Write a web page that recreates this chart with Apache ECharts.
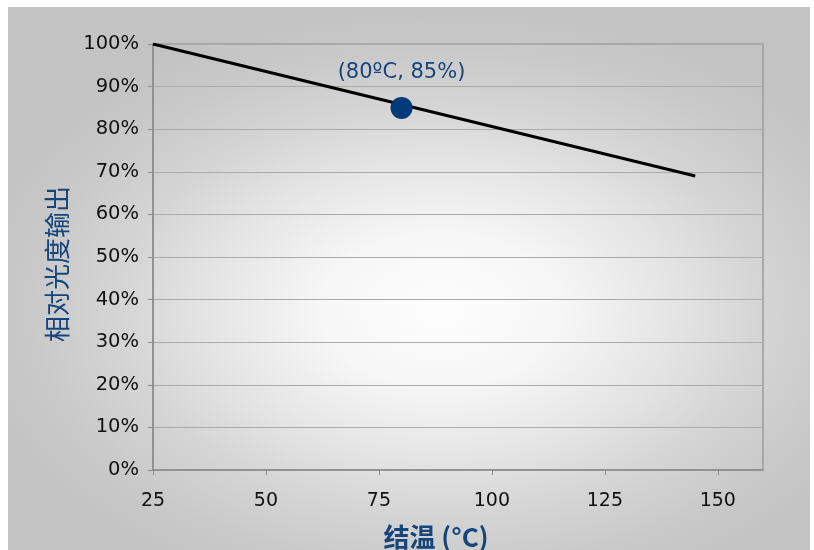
<!DOCTYPE html>
<html>
<head>
<meta charset="utf-8">
<script src="https://cdn.jsdelivr.net/npm/echarts@6/dist/echarts.min.js"></script>
<style>
  html, body { margin: 0; padding: 0; background: #ffffff; }
  #chart { width: 814px; height: 550px; }
</style>
</head>
<body>
<div id="chart"></div>
<script>
// Junction temperature (°C) vs. relative light output (%)
const junctionTemp = [25, 145];
const relativeOutput = [100, 69];

// Highlighted operating point
const pointTemp = [80];
const pointOutput = [85];

// Axis ticks
const xTickValues = [25, 50, 75, 100, 125, 150];
const xMin = 25, xMax = 160, xStep = 25;
const yMin = 0, yMax = 100, yStep = 10;

const yTitle = '相对光度输出';
const xTitle = '结温 (°C)';

const titleBlue = '#16457c';
const labelFont = 'DejaVu Sans, Verdana, sans-serif';
const cjkFont = '"Noto Sans CJK SC", "DejaVu Sans", sans-serif';

const lineData = junctionTemp.map((t, i) => [t, relativeOutput[i]]);
const pointData = pointTemp.map((t, i) => [t, pointOutput[i]]);

const chart = echarts.init(document.getElementById('chart'), null, { renderer: 'canvas' });

chart.setOption({
  animation: false,
  backgroundColor: '#ffffff',
  graphic: [
    {
      // grey panel with a soft elliptical highlight in the middle
      type: 'rect',
      z: -10,
      silent: true,
      x: 440,
      y: 310,
      scaleY: 0.64,
      shape: { x: -432, y: (7 - 310) / 0.64, width: 802, height: (550 - 7) / 0.64 },
      style: {
        fill: new echarts.graphic.RadialGradient(0, 0, 480, [
          { offset: 0, color: '#fdfdfd' },
          { offset: 0.25, color: '#f6f6f6' },
          { offset: 0.5, color: '#e3e3e3' },
          { offset: 0.66, color: '#d5d5d5' },
          { offset: 0.85, color: '#c9c9c9' },
          { offset: 1, color: '#c3c3c3' }
        ], true)
      }
    },
    {
      // y-axis title, rotated
      type: 'text',
      silent: true,
      x: 57,
      y: 264,
      rotation: Math.PI / 2,
      style: {
        text: yTitle,
        fill: titleBlue,
        font: 'normal 26px ' + cjkFont,
        textAlign: 'center',
        textVerticalAlign: 'middle'
      }
    },
    {
      // x-axis title
      type: 'text',
      silent: true,
      x: 436,
      y: 537,
      style: {
        text: xTitle,
        fill: titleBlue,
        font: 'bold 26px ' + cjkFont,
        textAlign: 'center',
        textVerticalAlign: 'middle'
      }
    }
  ],
  grid: {
    left: 153,
    right: 51,
    top: 44,
    bottom: 80,
    show: true,
    backgroundColor: 'transparent',
    borderColor: '#9c9c9c',
    borderWidth: 1.5
  },
  xAxis: {
    type: 'value',
    min: xMin,
    max: xMax,
    interval: xStep,
    axisLine: { show: true, lineStyle: { color: '#8a8a8a', width: 1.5 } },
    axisTick: { show: true, inside: false, length: 5, customValues: xTickValues, lineStyle: { color: '#8a8a8a' } },
    axisLabel: {
      customValues: xTickValues,
      margin: 22,
      color: '#111111',
      fontSize: 19,
      fontFamily: labelFont
    },
    splitLine: { show: false }
  },
  yAxis: {
    type: 'value',
    min: yMin,
    max: yMax,
    interval: yStep,
    axisLine: { show: true, lineStyle: { color: '#8a8a8a', width: 1.5 } },
    axisTick: { show: true, inside: false, length: 5, lineStyle: { color: '#8a8a8a' } },
    axisLabel: {
      formatter: '{value}%',
      margin: 14,
      color: '#111111',
      fontSize: 19.5,
      fontFamily: labelFont
    },
    splitLine: { show: true, lineStyle: { color: '#aaaaaa', width: 1 } }
  },
  series: [
    {
      type: 'line',
      data: lineData,
      symbol: 'none',
      lineStyle: { color: '#000000', width: 3 },
      z: 2
    },
    {
      type: 'scatter',
      data: pointData,
      symbol: 'circle',
      symbolSize: 22,
      itemStyle: { color: '#003a78', opacity: 1 },
      label: {
        show: true,
        position: 'top',
        distance: 14,
        formatter: p => '(' + p.value[0] + 'ºC, ' + p.value[1] + '%)',
        color: titleBlue,
        fontSize: 21,
        fontFamily: labelFont
      },
      z: 3
    }
  ]
});
</script>
</body>
</html>
